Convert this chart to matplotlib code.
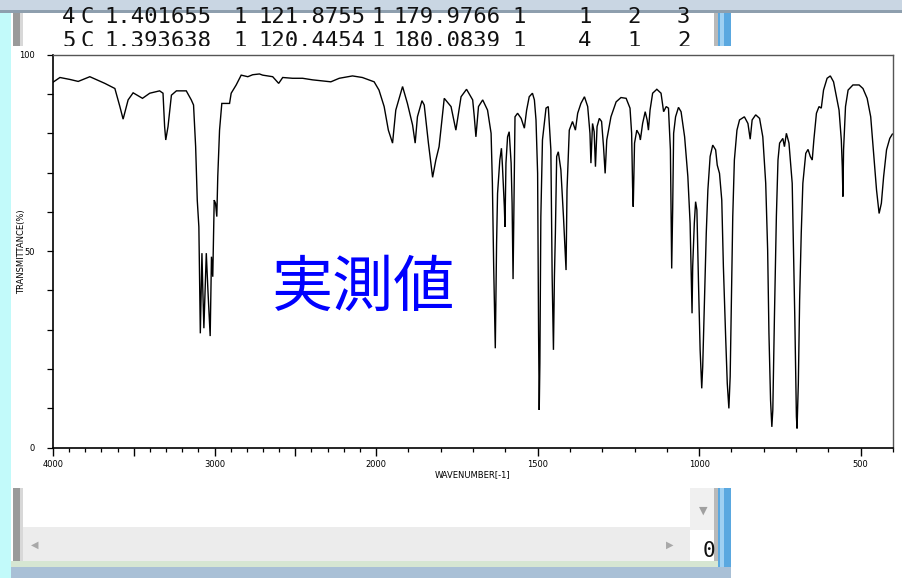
import numpy as np
import matplotlib
matplotlib.use("Agg")
import matplotlib.pyplot as plt
from matplotlib.patches import Rectangle
from matplotlib.ticker import FixedLocator, FixedFormatter

# ---------------- data ----------------
wavenumber = [
    4000, 3957, 3895, 3844, 3772, 3679, 3617, 3586, 3566, 3535, 3504, 3446, 3401, 3340,
    3319, 3309, 3302, 3288, 3267, 3236, 3175, 3144, 3130, 3117, 3107, 3097, 3088, 3078,
    3072, 3066, 3051, 3041, 3027, 3019, 3011, 3002, 2994, 2986, 2980, 2969, 2955, 2938,
    2907, 2897, 2866, 2835, 2794, 2764, 2722, 2702, 2640, 2603, 2578, 2517, 2455, 2393,
    2280, 2228, 2146, 2085, 2012,
    1991, 1975, 1962, 1949, 1939, 1918, 1903, 1887, 1879, 1872, 1858, 1851, 1838, 1825,
    1815, 1805, 1789, 1768, 1753, 1737, 1720, 1701, 1696, 1691, 1683, 1670, 1655, 1644,
    1640, 1636, 1631, 1627, 1624, 1617, 1612, 1609, 1603, 1601, 1598, 1593, 1588, 1582,
    1579, 1576, 1573, 1570, 1562, 1551, 1541, 1534, 1526, 1516, 1510, 1505, 1500, 1497,
    1495, 1493, 1490, 1485, 1474, 1467, 1459, 1455, 1451, 1448, 1445, 1441, 1436, 1428,
    1420, 1415, 1412, 1409, 1402, 1392, 1383, 1376, 1366, 1355, 1345, 1338, 1335, 1330,
    1325, 1321, 1316, 1309, 1302, 1296, 1291, 1286, 1273, 1257, 1242, 1226, 1214, 1209,
    1206, 1204, 1200, 1193, 1185, 1182, 1175, 1167, 1161, 1157, 1152, 1144, 1131, 1118,
    1110, 1102, 1095, 1089, 1087, 1085, 1082, 1079, 1073, 1064, 1056, 1045, 1035, 1028,
    1024, 1022, 1020, 1015, 1011, 1007, 1002, 997, 992, 989, 984, 978, 973, 966, 958,
    949, 944, 937, 930, 925, 918, 913, 908, 904, 900, 896, 891, 883, 875, 860, 849, 842,
    836, 825, 813, 803, 794, 788, 784, 779, 775, 772, 767, 761, 756, 751, 741, 736, 730,
    722, 712, 708, 704, 699, 697, 693, 689, 684, 679, 670, 663, 656, 650, 645, 637, 629,
    622, 615, 604, 594, 584, 575, 567, 560, 557, 555, 553, 547, 539, 524, 505, 493, 480,
    469, 460, 451, 443, 436, 429, 420, 410, 402,
]
transmittance = [
    93.0, 94.2, 93.7, 93.2, 94.4, 92.7, 91.4, 86.8, 83.6, 88.5, 90.3, 88.9, 90.2, 90.8,
    90.2, 81.7, 78.3, 81.7, 89.7, 90.8, 90.8, 88.5, 87.2, 76.6, 63.0, 56.2, 29.1, 49.5,
    39.3, 30.4, 49.5, 40.1, 28.4, 48.6, 43.5, 63.0, 62.2, 58.8, 69.0, 80.8, 87.6, 87.6,
    87.6, 90.2, 92.3, 94.8, 94.4, 94.9, 95.1, 94.8, 94.4, 92.7, 94.2, 94.0, 94.0, 93.6,
    93.1, 94.0, 94.6, 94.2, 93.1,
    91.0, 86.8, 80.8, 77.5, 85.9, 91.9, 87.6, 82.1, 77.5, 84.2, 88.3, 87.2, 77.5, 68.8,
    73.2, 76.6, 88.9, 86.8, 80.8, 89.3, 91.2, 88.5, 84.2, 79.1, 86.8, 88.5, 85.9, 80.0,
    67.3, 46.1, 25.3, 52.0, 64.7, 73.2, 76.2, 71.9, 61.3, 56.2, 72.4, 79.1, 80.4, 72.4,
    62.2, 42.9, 63.0, 84.2, 85.1, 83.8, 81.3, 85.9, 89.3, 90.2, 88.5, 83.4, 69.8, 29.1,
    9.6, 21.5, 58.8, 78.3, 86.4, 86.8, 75.8, 43.5, 24.9, 43.5, 54.6, 74.1, 75.3, 70.7,
    58.8, 50.3, 45.2, 65.6, 80.8, 83.0, 80.8, 85.1, 87.6, 89.3, 86.8, 80.0, 72.4, 82.5,
    80.4, 71.5, 81.7, 83.8, 83.0, 76.6, 69.8, 78.3, 84.2, 88.0, 89.1, 88.9, 86.4, 80.0,
    66.4, 61.3, 77.5, 80.8, 79.6, 78.3, 82.5, 85.5, 83.4, 80.8, 85.9, 90.2, 91.2, 90.2,
    85.5, 86.8, 86.4, 75.8, 60.5, 45.6, 60.5, 80.0, 84.2, 86.6, 85.5, 79.1, 69.0, 57.1,
    41.8, 34.2, 46.1, 57.1, 62.6, 60.5, 41.8, 24.9, 15.1, 20.6, 35.9, 54.6, 65.6, 74.1, 77.0,
    75.8, 71.9, 69.8, 63.0, 46.1, 28.2, 16.4, 10.0, 18.1, 38.4, 58.8, 73.2, 80.8, 83.4, 84.2, 82.5, 78.5,
    83.4, 84.7, 83.8, 79.1, 67.3, 50.3, 29.1, 12.1, 5.3, 9.6, 33.3, 58.8, 73.2, 77.5, 78.7, 76.6, 80.0,
    77.5, 67.3, 50.3, 33.3, 7.9, 4.9, 16.4, 37.6, 54.6, 67.3, 74.9, 75.9, 74.1, 73.2, 78.3, 85.1, 86.8,
    86.4, 91.0, 94.0, 94.6, 93.1, 89.3, 85.9, 78.3, 71.5, 63.9, 75.8, 86.8, 91.0, 92.3, 92.3, 91.4, 88.9,
    84.2, 74.9, 65.6, 59.6, 62.2, 69.0, 75.8, 78.7, 79.8,
]
x_major = [4000, 3500, 3000, 2500, 2000, 1500, 1000, 500]
x_major_labels = ["4000", "", "3000", "", "2000", "1500", "1000", "500"]
x_minor = list(range(3900, 399, -100))
y_ticks = [0, 10, 20, 30, 40, 50, 60, 70, 80, 90, 100]
y_tick_labels = ["0", "", "", "", "", "50", "", "", "", "", "100"]
x_title = "WAVENUMBER[-1]"
y_title = "TRANSMITTANCE(%)"
annotation = "実測値"
row1_tokens = ["4", "C", "1.401655", "1", "121.8755", "1", "179.9766", "1", "1", "2", "3"]
row2_tokens = ["5", "C", "1.393638", "1", "120.4454", "1", "180.0839", "1", "4", "1", "2"]

# ---------------- figure ----------------
W, H = 903, 578
fig = plt.figure(figsize=(W / 100, H / 100), dpi=100)
fig.patch.set_facecolor("white")


def prect(x0, y0, x1, y1, color, z=-5):
    fig.add_artist(Rectangle((x0 / W, 1 - y1 / H), (x1 - x0) / W, (y1 - y0) / H,
                             transform=fig.transFigure, facecolor=color,
                             edgecolor="none", zorder=z))


def ptext(x, y, s, z=-3, **kw):
    fig.text(x / W, 1 - y / H, s, zorder=z, **kw)


# window background pieces
prect(0, 0, 903, 578, "white", z=-10)
prect(0, 0, 11, 578, "#c2fafa", z=-9)          # cyan desktop strip
prect(11, 0, 731, 578, "#ffffff", z=-9)
prect(13, 0, 20, 578, "#9a9a9a", z=-8)          # left window border
prect(20, 0, 23, 578, "#d8d8d8", z=-8)
prect(714, 0, 718, 578, "#b9b9b9", z=-8)        # right side border
prect(718, 0, 731, 578, "#5aa8e0", z=-8)
prect(720, 0, 724, 578, "#9fd0f2", z=-8)
# bottom scrollbars
prect(23, 527, 690, 561, "#ececec", z=-7)
prect(690, 488, 714, 530, "#f0f0f0", z=-7)
prect(690, 530, 714, 566, "#ffffff", z=-7)
prect(11, 561, 718, 567, "#d6e6d2", z=-7)
prect(11, 567, 731, 578, "#a9c0d6", z=-7)
ptext(703, 511, "▼", color="#a0a0a0", fontsize=8, ha="center", va="center")
ptext(35, 545, "◀", color="#a8a8a8", fontsize=7, ha="center", va="center")
ptext(670, 545, "▶", color="#a8a8a8", fontsize=7, ha="center", va="center")
ptext(709, 551, "0", color="#111111", fontsize=15, ha="center", va="center",
      family="DejaVu Sans Mono")

# text rows of the table behind
tok_x = [62, 80, 104, 233, 258, 371, 393, 512, 578, 627, 677]
for tx, t1, t2 in zip(tok_x, row1_tokens, row2_tokens):
    ptext(tx, 23, t1, family="DejaVu Sans Mono", fontsize=16, color="#111111", va="baseline")
    ptext(tx, 47, t2, family="DejaVu Sans Mono", fontsize=16, color="#111111", va="baseline")

# title bar on top
prect(0, 0, 903, 11, "#c9d6e3", z=-4)
prect(0, 10, 903, 13, "#8e9fae", z=-4)

# white plot panel
prect(11, 46, 903, 488, "white", z=-2)

# ---------------- axes ----------------
ax = fig.add_axes([53 / W, 1 - 447.7 / H, 840 / W, (447.7 - 54.7) / H])
ax.set_zorder(1)


def fwd(w):
    w = np.asarray(w, dtype=float)
    return np.where(w <= 2000, w, 2000 + (w - 2000) / 2.0)


def inv(u):
    u = np.asarray(u, dtype=float)
    return np.where(u <= 2000, u, 2000 + 2.0 * (u - 2000))


ax.set_xscale("function", functions=(fwd, inv))
ax.plot(wavenumber, transmittance, color="black", lw=1.0, solid_joinstyle="miter")
ax.set_xlim(4000, 400)
ax.set_ylim(0, 100)

ax.xaxis.set_major_locator(FixedLocator(x_major))
ax.xaxis.set_major_formatter(FixedFormatter(x_major_labels))
ax.xaxis.set_minor_locator(FixedLocator(x_minor))
ax.yaxis.set_major_locator(FixedLocator(y_ticks))
ax.yaxis.set_major_formatter(FixedFormatter(y_tick_labels))

ax.tick_params(axis="x", which="major", direction="out", length=5.5, width=1.0,
               labelsize=6, pad=3)
ax.tick_params(axis="x", which="minor", direction="out", length=3, width=0.9)
ax.tick_params(axis="y", which="major", direction="out", length=4, width=0.9,
               labelsize=6, pad=9)

for s in ["left", "bottom"]:
    ax.spines[s].set_linewidth(1.2)
    ax.spines[s].set_color("black")
for s in ["top", "right"]:
    ax.spines[s].set_linewidth(1.0)
    ax.spines[s].set_color("#555555")

ax.set_xlabel(x_title, fontsize=6, labelpad=1)
ax.set_ylabel(y_title, fontsize=6)
ax.yaxis.set_label_coords(-0.032, 0.5)

ax.text(0.37, 0.405, annotation, transform=ax.transAxes, fontsize=44,
        color="#0000ff", ha="center", va="center",
        family=["Noto Sans CJK JP", "DejaVu Sans"])

fig.savefig("out.png", dpi=100)
